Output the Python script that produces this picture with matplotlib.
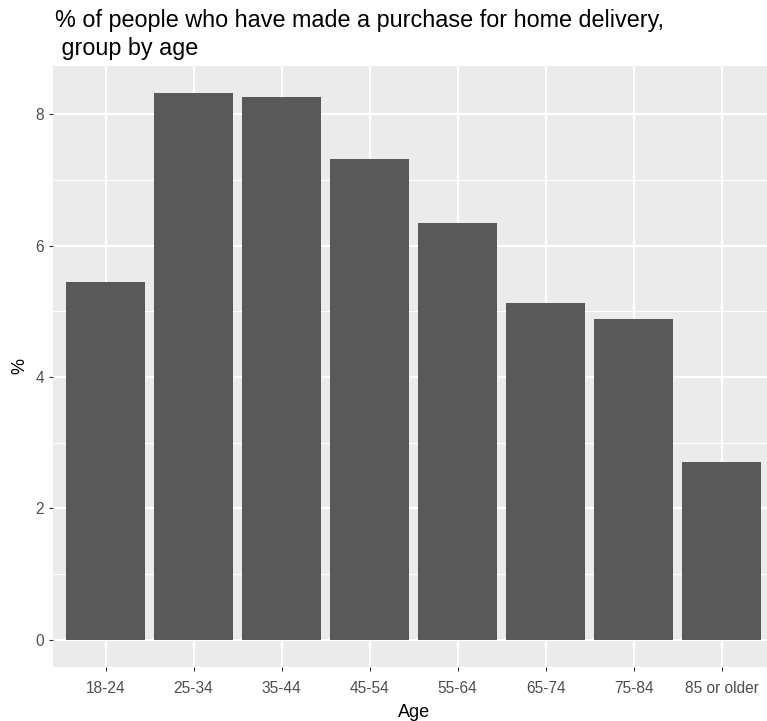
import numpy as np
import matplotlib.pyplot as plt
from matplotlib.ticker import MultipleLocator

# age groups and share of people (%) who bought for home delivery
ages = ["18-24", "25-34", "35-44", "45-54", "55-64", "65-74", "75-84", "85 or older"]
pct = [5.45, 8.32, 8.27, 7.32, 6.34, 5.13, 4.89, 2.70]

plt.rcParams["font.family"] = ["Liberation Sans", "DejaVu Sans"]

fig = plt.figure(figsize=(7.67, 7.21), dpi=100)
ax = fig.add_axes([0.0687, 0.0749, 0.941, 0.8336])

x = np.arange(len(ages))
ax.set_facecolor("#EBEBEB")
ax.bar(x, pct, width=0.9, color="#595959", zorder=3)

ax.set_xlim(-0.6, len(ages) - 0.4)
ax.set_ylim(-0.416, 8.736)
ax.set_xticks(x)
ax.set_xticklabels(ages)
ax.yaxis.set_major_locator(MultipleLocator(2))
ax.yaxis.set_minor_locator(MultipleLocator(1))

# ggplot-ish grid
ax.grid(which="major", color="white", linewidth=1.6, zorder=0)
ax.grid(which="minor", axis="y", color="white", linewidth=0.8, zorder=0)
ax.set_axisbelow(True)
for s in ax.spines.values():
    s.set_visible(False)

ax.tick_params(axis="both", which="major", length=3, width=0.8, color="#333333",
               labelcolor="#4D4D4D", labelsize=11.2, pad=3)
ax.tick_params(axis="x", pad=7)
ax.tick_params(which="minor", length=0)

ax.set_xlabel("Age", fontsize=13, color="black", labelpad=6)
ax.set_ylabel("%", fontsize=13, color="black", labelpad=5)

fig.text(0.0717, 0.988, "% of people who have made a purchase for home delivery,\n group by age",
         fontsize=16.8, color="black", va="top", ha="left", linespacing=1.28)

fig.savefig("out.png", dpi=100)
